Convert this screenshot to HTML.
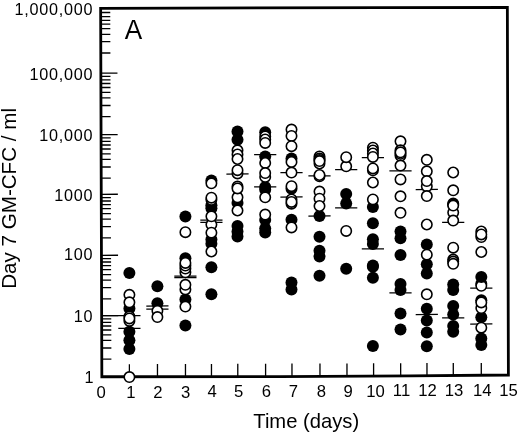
<!DOCTYPE html>
<html><head><meta charset="utf-8"><title>Figure A</title>
<style>html,body{margin:0;padding:0;background:#fff;}body{width:520px;height:435px;position:relative;overflow:hidden;font-family:"Liberation Sans",sans-serif;}</style></head>
<body>
<svg width="520" height="435" viewBox="0 0 520 435" style="position:absolute;left:0;top:0;will-change:transform;filter:blur(0.35px)">
<rect width="520" height="435" fill="#fff"/>
<polygon points="100.65,8.30 507.35,7.35 508.40,375.00 410.00,375.80 280.00,376.60 101.85,376.75" fill="none" stroke="#000" stroke-width="2.8" stroke-linejoin="miter"/>
<g stroke="#000" stroke-width="1.3">
<line x1="101.79" y1="359.10" x2="111.39" y2="359.08"/>
<line x1="101.76" y1="348.00" x2="111.36" y2="347.98"/>
<line x1="101.73" y1="340.45" x2="111.33" y2="340.43"/>
<line x1="101.71" y1="334.90" x2="111.31" y2="334.88"/>
<line x1="101.70" y1="330.00" x2="111.30" y2="329.98"/>
<line x1="101.68" y1="326.00" x2="111.28" y2="325.98"/>
<line x1="101.67" y1="322.30" x2="111.27" y2="322.28"/>
<line x1="101.66" y1="318.90" x2="111.26" y2="318.88"/>
<line x1="101.65" y1="315.60" x2="118.25" y2="315.56"/>
<line x1="101.60" y1="298.80" x2="111.20" y2="298.78"/>
<line x1="101.56" y1="287.70" x2="111.16" y2="287.68"/>
<line x1="101.54" y1="280.15" x2="111.14" y2="280.13"/>
<line x1="101.52" y1="274.60" x2="111.12" y2="274.58"/>
<line x1="101.50" y1="269.70" x2="111.10" y2="269.68"/>
<line x1="101.49" y1="265.70" x2="111.09" y2="265.68"/>
<line x1="101.48" y1="262.00" x2="111.08" y2="261.98"/>
<line x1="101.47" y1="258.60" x2="111.07" y2="258.58"/>
<line x1="101.45" y1="255.30" x2="118.05" y2="255.26"/>
<line x1="101.40" y1="237.80" x2="111.00" y2="237.78"/>
<line x1="101.36" y1="226.70" x2="110.96" y2="226.68"/>
<line x1="101.34" y1="219.15" x2="110.94" y2="219.13"/>
<line x1="101.32" y1="213.60" x2="110.92" y2="213.58"/>
<line x1="101.30" y1="208.70" x2="110.90" y2="208.68"/>
<line x1="101.29" y1="204.70" x2="110.89" y2="204.68"/>
<line x1="101.28" y1="201.00" x2="110.88" y2="200.98"/>
<line x1="101.27" y1="197.60" x2="110.87" y2="197.58"/>
<line x1="101.26" y1="194.30" x2="117.86" y2="194.26"/>
<line x1="101.20" y1="178.10" x2="110.80" y2="178.08"/>
<line x1="101.17" y1="167.00" x2="110.77" y2="166.98"/>
<line x1="101.14" y1="159.45" x2="110.74" y2="159.43"/>
<line x1="101.12" y1="153.90" x2="110.72" y2="153.88"/>
<line x1="101.11" y1="149.00" x2="110.71" y2="148.98"/>
<line x1="101.10" y1="145.00" x2="110.70" y2="144.98"/>
<line x1="101.08" y1="141.30" x2="110.68" y2="141.28"/>
<line x1="101.07" y1="137.90" x2="110.67" y2="137.88"/>
<line x1="101.06" y1="134.60" x2="117.66" y2="134.56"/>
<line x1="101.00" y1="116.60" x2="110.60" y2="116.58"/>
<line x1="100.97" y1="105.50" x2="110.57" y2="105.48"/>
<line x1="100.94" y1="97.95" x2="110.54" y2="97.93"/>
<line x1="100.92" y1="92.40" x2="110.52" y2="92.38"/>
<line x1="100.91" y1="87.50" x2="110.51" y2="87.48"/>
<line x1="100.89" y1="83.50" x2="110.49" y2="83.48"/>
<line x1="100.88" y1="79.80" x2="110.48" y2="79.78"/>
<line x1="100.87" y1="76.40" x2="110.47" y2="76.38"/>
<line x1="100.86" y1="73.10" x2="117.46" y2="73.06"/>
<line x1="100.80" y1="53.00" x2="110.40" y2="52.98"/>
<line x1="100.76" y1="41.70" x2="110.36" y2="41.68"/>
<line x1="100.73" y1="34.30" x2="110.33" y2="34.28"/>
<line x1="100.72" y1="28.70" x2="110.32" y2="28.68"/>
<line x1="100.70" y1="24.10" x2="110.30" y2="24.08"/>
<line x1="100.69" y1="20.30" x2="110.29" y2="20.28"/>
<line x1="100.68" y1="16.60" x2="110.28" y2="16.58"/>
<line x1="100.66" y1="12.50" x2="110.26" y2="12.48"/>
<line x1="129.40" y1="376.73" x2="129.37" y2="364.20"/>
<line x1="157.50" y1="376.70" x2="157.47" y2="364.09"/>
<line x1="185.50" y1="376.68" x2="185.47" y2="363.99"/>
<line x1="211.50" y1="376.66" x2="211.47" y2="363.89"/>
<line x1="237.80" y1="376.64" x2="237.77" y2="363.80"/>
<line x1="265.60" y1="376.61" x2="265.57" y2="363.69"/>
<line x1="292.00" y1="376.53" x2="291.97" y2="363.60"/>
<line x1="320.00" y1="376.35" x2="319.97" y2="363.49"/>
<line x1="347.00" y1="376.19" x2="346.97" y2="363.39"/>
<line x1="373.60" y1="376.02" x2="373.57" y2="363.29"/>
<line x1="400.70" y1="375.86" x2="400.67" y2="363.19"/>
<line x1="427.00" y1="375.66" x2="426.97" y2="363.10"/>
<line x1="453.30" y1="375.45" x2="453.27" y2="363.00"/>
<line x1="481.30" y1="375.22" x2="481.27" y2="362.90"/>
</g>
<g stroke="#000" stroke-width="1.25">
<line x1="101.65" y1="315.63" x2="140.50" y2="315.57"/>
<line x1="118.30" y1="328.33" x2="140.50" y2="328.27"/>
<line x1="146.30" y1="306.03" x2="168.50" y2="305.97"/>
<line x1="146.30" y1="309.23" x2="168.50" y2="309.17"/>
<line x1="174.30" y1="276.23" x2="196.50" y2="276.17"/>
<line x1="174.30" y1="277.63" x2="196.50" y2="277.57"/>
<line x1="200.30" y1="220.23" x2="222.50" y2="220.17"/>
<line x1="200.30" y1="222.33" x2="222.50" y2="222.27"/>
<line x1="226.40" y1="174.03" x2="248.60" y2="173.97"/>
<line x1="254.10" y1="154.63" x2="276.30" y2="154.57"/>
<line x1="254.10" y1="186.83" x2="276.30" y2="186.77"/>
<line x1="280.40" y1="172.73" x2="302.60" y2="172.67"/>
<line x1="280.40" y1="197.03" x2="302.60" y2="196.97"/>
<line x1="308.40" y1="175.93" x2="330.60" y2="175.87"/>
<line x1="308.40" y1="216.03" x2="330.60" y2="215.97"/>
<line x1="335.10" y1="169.63" x2="357.30" y2="169.57"/>
<line x1="335.10" y1="207.83" x2="357.30" y2="207.77"/>
<line x1="361.80" y1="157.63" x2="384.00" y2="157.57"/>
<line x1="361.80" y1="248.93" x2="384.00" y2="248.87"/>
<line x1="389.40" y1="170.83" x2="411.60" y2="170.77"/>
<line x1="389.40" y1="292.83" x2="411.60" y2="292.77"/>
<line x1="415.70" y1="189.53" x2="437.90" y2="189.47"/>
<line x1="415.70" y1="314.53" x2="437.90" y2="314.47"/>
<line x1="442.10" y1="222.43" x2="464.30" y2="222.37"/>
<line x1="442.10" y1="317.93" x2="464.30" y2="317.87"/>
<line x1="470.20" y1="288.13" x2="492.40" y2="288.07"/>
<line x1="470.20" y1="324.03" x2="492.40" y2="323.97"/>
</g>
<g fill="#000">
<circle cx="129.40" cy="273.10" r="6.0"/>
<circle cx="129.40" cy="308.60" r="6.0"/>
<circle cx="129.40" cy="331.80" r="6.0"/>
<circle cx="129.40" cy="340.30" r="6.0"/>
<circle cx="129.40" cy="349.00" r="6.0"/>
<circle cx="157.40" cy="286.20" r="6.0"/>
<circle cx="157.40" cy="303.30" r="6.0"/>
<circle cx="185.40" cy="216.40" r="6.0"/>
<circle cx="185.40" cy="258.20" r="6.0"/>
<circle cx="185.40" cy="299.40" r="6.0"/>
<circle cx="185.40" cy="325.60" r="6.0"/>
<circle cx="211.40" cy="180.40" r="6.0"/>
<circle cx="211.40" cy="205.30" r="6.0"/>
<circle cx="211.40" cy="208.30" r="6.0"/>
<circle cx="211.40" cy="239.60" r="6.0"/>
<circle cx="211.40" cy="243.80" r="6.0"/>
<circle cx="211.40" cy="267.30" r="6.0"/>
<circle cx="211.40" cy="294.20" r="6.0"/>
<circle cx="237.50" cy="131.60" r="6.0"/>
<circle cx="237.50" cy="139.80" r="6.0"/>
<circle cx="237.50" cy="203.00" r="6.0"/>
<circle cx="237.50" cy="226.00" r="6.0"/>
<circle cx="237.50" cy="231.50" r="6.0"/>
<circle cx="237.50" cy="236.40" r="6.0"/>
<circle cx="265.20" cy="132.30" r="6.0"/>
<circle cx="265.20" cy="156.60" r="6.0"/>
<circle cx="265.20" cy="186.90" r="6.0"/>
<circle cx="265.20" cy="189.80" r="6.0"/>
<circle cx="265.20" cy="220.00" r="6.0"/>
<circle cx="265.20" cy="228.60" r="6.0"/>
<circle cx="265.20" cy="232.50" r="6.0"/>
<circle cx="291.50" cy="158.60" r="6.0"/>
<circle cx="291.50" cy="188.70" r="6.0"/>
<circle cx="291.50" cy="219.80" r="6.0"/>
<circle cx="291.50" cy="282.50" r="6.0"/>
<circle cx="291.50" cy="289.50" r="6.0"/>
<circle cx="319.50" cy="215.90" r="6.0"/>
<circle cx="319.50" cy="236.70" r="6.0"/>
<circle cx="319.50" cy="250.80" r="6.0"/>
<circle cx="319.50" cy="256.60" r="6.0"/>
<circle cx="319.50" cy="275.80" r="6.0"/>
<circle cx="346.20" cy="194.00" r="6.0"/>
<circle cx="346.20" cy="203.50" r="6.0"/>
<circle cx="346.20" cy="268.70" r="6.0"/>
<circle cx="372.90" cy="207.00" r="6.0"/>
<circle cx="372.90" cy="223.20" r="6.0"/>
<circle cx="372.90" cy="239.20" r="6.0"/>
<circle cx="372.90" cy="244.00" r="6.0"/>
<circle cx="372.90" cy="265.40" r="6.0"/>
<circle cx="372.90" cy="266.80" r="6.0"/>
<circle cx="372.90" cy="277.70" r="6.0"/>
<circle cx="372.90" cy="346.00" r="6.0"/>
<circle cx="400.50" cy="231.50" r="6.0"/>
<circle cx="400.50" cy="238.30" r="6.0"/>
<circle cx="400.50" cy="255.00" r="6.0"/>
<circle cx="400.50" cy="284.10" r="6.0"/>
<circle cx="400.50" cy="290.00" r="6.0"/>
<circle cx="400.50" cy="313.50" r="6.0"/>
<circle cx="400.50" cy="329.50" r="6.0"/>
<circle cx="426.80" cy="244.60" r="6.0"/>
<circle cx="426.80" cy="264.20" r="6.0"/>
<circle cx="426.80" cy="273.50" r="6.0"/>
<circle cx="426.80" cy="308.80" r="6.0"/>
<circle cx="426.80" cy="320.60" r="6.0"/>
<circle cx="426.80" cy="332.40" r="6.0"/>
<circle cx="426.80" cy="346.30" r="6.0"/>
<circle cx="453.20" cy="284.60" r="6.0"/>
<circle cx="453.20" cy="289.90" r="6.0"/>
<circle cx="453.20" cy="305.90" r="6.0"/>
<circle cx="453.20" cy="314.40" r="6.0"/>
<circle cx="453.20" cy="326.10" r="6.0"/>
<circle cx="453.20" cy="331.80" r="6.0"/>
<circle cx="481.30" cy="300.20" r="6.0"/>
<circle cx="481.30" cy="317.20" r="6.0"/>
<circle cx="481.30" cy="338.60" r="6.0"/>
<circle cx="481.30" cy="345.00" r="6.0"/>
</g>
<g fill="#fff" stroke="#000" stroke-width="1.6">
<circle cx="129.40" cy="294.80" r="5.2"/>
<circle cx="129.40" cy="302.30" r="5.2"/>
<circle cx="129.40" cy="316.60" r="5.2"/>
<circle cx="129.40" cy="320.90" r="5.2"/>
<circle cx="129.40" cy="318.40" r="5.2"/>
<circle cx="129.40" cy="377.10" r="5.2"/>
<circle cx="157.40" cy="310.80" r="5.2"/>
<circle cx="157.40" cy="317.10" r="5.2"/>
<circle cx="185.40" cy="232.20" r="5.2"/>
<circle cx="185.40" cy="272.30" r="5.2"/>
<circle cx="185.40" cy="268.60" r="5.2"/>
<circle cx="185.40" cy="265.60" r="5.2"/>
<circle cx="185.40" cy="262.90" r="5.2"/>
<circle cx="185.40" cy="289.40" r="5.2"/>
<circle cx="185.40" cy="284.80" r="5.2"/>
<circle cx="185.40" cy="306.60" r="5.2"/>
<circle cx="211.40" cy="183.30" r="5.2"/>
<circle cx="211.40" cy="199.80" r="5.2"/>
<circle cx="211.40" cy="197.70" r="5.2"/>
<circle cx="211.40" cy="224.60" r="5.2"/>
<circle cx="211.40" cy="216.30" r="5.2"/>
<circle cx="211.40" cy="232.70" r="5.2"/>
<circle cx="211.40" cy="251.50" r="5.2"/>
<circle cx="237.50" cy="150.30" r="5.2"/>
<circle cx="237.50" cy="154.50" r="5.2"/>
<circle cx="237.50" cy="159.00" r="5.2"/>
<circle cx="237.50" cy="173.40" r="5.2"/>
<circle cx="237.50" cy="170.20" r="5.2"/>
<circle cx="237.50" cy="197.30" r="5.2"/>
<circle cx="237.50" cy="186.60" r="5.2"/>
<circle cx="237.50" cy="188.40" r="5.2"/>
<circle cx="237.50" cy="210.50" r="5.2"/>
<circle cx="265.20" cy="136.40" r="5.2"/>
<circle cx="265.20" cy="139.50" r="5.2"/>
<circle cx="265.20" cy="142.90" r="5.2"/>
<circle cx="265.20" cy="163.00" r="5.2"/>
<circle cx="265.20" cy="176.90" r="5.2"/>
<circle cx="265.20" cy="173.10" r="5.2"/>
<circle cx="265.20" cy="197.30" r="5.2"/>
<circle cx="265.20" cy="214.60" r="5.2"/>
<circle cx="291.50" cy="129.60" r="5.2"/>
<circle cx="291.50" cy="135.90" r="5.2"/>
<circle cx="291.50" cy="146.20" r="5.2"/>
<circle cx="291.50" cy="162.00" r="5.2"/>
<circle cx="291.50" cy="172.60" r="5.2"/>
<circle cx="291.50" cy="186.20" r="5.2"/>
<circle cx="291.50" cy="199.50" r="5.2"/>
<circle cx="291.50" cy="203.70" r="5.2"/>
<circle cx="291.50" cy="201.90" r="5.2"/>
<circle cx="291.50" cy="227.40" r="5.2"/>
<circle cx="319.50" cy="156.50" r="5.2"/>
<circle cx="319.50" cy="158.60" r="5.2"/>
<circle cx="319.50" cy="160.00" r="5.2"/>
<circle cx="319.50" cy="163.50" r="5.2"/>
<circle cx="319.50" cy="161.10" r="5.2"/>
<circle cx="319.50" cy="176.30" r="5.2"/>
<circle cx="319.50" cy="175.00" r="5.2"/>
<circle cx="319.50" cy="191.60" r="5.2"/>
<circle cx="319.50" cy="198.70" r="5.2"/>
<circle cx="319.50" cy="206.00" r="5.2"/>
<circle cx="346.20" cy="166.30" r="5.2"/>
<circle cx="346.20" cy="157.20" r="5.2"/>
<circle cx="346.20" cy="230.90" r="5.2"/>
<circle cx="372.90" cy="147.70" r="5.2"/>
<circle cx="372.90" cy="150.50" r="5.2"/>
<circle cx="372.90" cy="153.50" r="5.2"/>
<circle cx="372.90" cy="156.90" r="5.2"/>
<circle cx="372.90" cy="170.30" r="5.2"/>
<circle cx="372.90" cy="168.40" r="5.2"/>
<circle cx="372.90" cy="182.50" r="5.2"/>
<circle cx="372.90" cy="199.40" r="5.2"/>
<circle cx="400.50" cy="141.30" r="5.2"/>
<circle cx="400.50" cy="150.30" r="5.2"/>
<circle cx="400.50" cy="155.80" r="5.2"/>
<circle cx="400.50" cy="153.80" r="5.2"/>
<circle cx="400.50" cy="152.30" r="5.2"/>
<circle cx="400.50" cy="165.60" r="5.2"/>
<circle cx="400.50" cy="179.40" r="5.2"/>
<circle cx="400.50" cy="196.30" r="5.2"/>
<circle cx="400.50" cy="212.80" r="5.2"/>
<circle cx="426.80" cy="159.80" r="5.2"/>
<circle cx="426.80" cy="171.30" r="5.2"/>
<circle cx="426.80" cy="186.30" r="5.2"/>
<circle cx="426.80" cy="181.10" r="5.2"/>
<circle cx="426.80" cy="196.10" r="5.2"/>
<circle cx="426.80" cy="224.50" r="5.2"/>
<circle cx="426.80" cy="254.70" r="5.2"/>
<circle cx="426.80" cy="294.30" r="5.2"/>
<circle cx="453.20" cy="172.50" r="5.2"/>
<circle cx="453.20" cy="190.30" r="5.2"/>
<circle cx="453.20" cy="203.40" r="5.2"/>
<circle cx="453.20" cy="204.60" r="5.2"/>
<circle cx="453.20" cy="212.60" r="5.2"/>
<circle cx="453.20" cy="205.60" r="5.2"/>
<circle cx="453.20" cy="220.60" r="5.2"/>
<circle cx="453.20" cy="247.70" r="5.2"/>
<circle cx="453.20" cy="259.60" r="5.2"/>
<circle cx="453.20" cy="261.60" r="5.2"/>
<circle cx="453.20" cy="263.80" r="5.2"/>
<circle cx="481.30" cy="231.50" r="5.2"/>
<circle cx="481.30" cy="237.10" r="5.2"/>
<circle cx="481.30" cy="234.40" r="5.2"/>
<circle cx="481.30" cy="252.00" r="5.2"/>
<circle cx="481.30" cy="283.80" r="5.2"/>
<circle cx="481.30" cy="285.80" r="5.2"/>
<circle cx="481.30" cy="308.10" r="5.2"/>
<circle cx="481.30" cy="302.40" r="5.2"/>
<circle cx="481.30" cy="327.70" r="5.2"/>
</g>
<g fill="#000">
<circle cx="481.30" cy="276.90" r="6.0"/>
</g>
<text transform="translate(93.30,15.00) scale(1.0,1)" font-family="Liberation Sans, sans-serif" font-size="16.2" text-anchor="end" fill="#000" letter-spacing="0.75">1,000,000</text>
<text transform="translate(93.30,80.00) scale(1.0,1)" font-family="Liberation Sans, sans-serif" font-size="16.2" text-anchor="end" fill="#000" letter-spacing="0.75">100,000</text>
<text transform="translate(93.30,141.00) scale(1.0,1)" font-family="Liberation Sans, sans-serif" font-size="16.2" text-anchor="end" fill="#000" letter-spacing="0.75">10,000</text>
<text transform="translate(93.30,201.00) scale(1.0,1)" font-family="Liberation Sans, sans-serif" font-size="16.2" text-anchor="end" fill="#000" letter-spacing="0.75">1000</text>
<text transform="translate(93.30,260.00) scale(1.0,1)" font-family="Liberation Sans, sans-serif" font-size="16.2" text-anchor="end" fill="#000" letter-spacing="0.75">100</text>
<text transform="translate(93.30,322.00) scale(1.0,1)" font-family="Liberation Sans, sans-serif" font-size="16.2" text-anchor="end" fill="#000" letter-spacing="0.75">10</text>
<text transform="translate(94.30,383.00) scale(1.0,1)" font-family="Liberation Sans, sans-serif" font-size="16.2" text-anchor="end" fill="#000" letter-spacing="0.75">1</text>
<text transform="translate(101.20,398.06) scale(1.03,1)" font-family="Liberation Sans, sans-serif" font-size="16.2" text-anchor="middle" fill="#000" >0</text>
<text transform="translate(130.80,397.89) scale(1.03,1)" font-family="Liberation Sans, sans-serif" font-size="16.2" text-anchor="middle" fill="#000" >1</text>
<text transform="translate(158.00,397.75) scale(1.03,1)" font-family="Liberation Sans, sans-serif" font-size="16.2" text-anchor="middle" fill="#000" >2</text>
<text transform="translate(185.70,397.60) scale(1.03,1)" font-family="Liberation Sans, sans-serif" font-size="16.2" text-anchor="middle" fill="#000" >3</text>
<text transform="translate(212.20,397.46) scale(1.03,1)" font-family="Liberation Sans, sans-serif" font-size="16.2" text-anchor="middle" fill="#000" >4</text>
<text transform="translate(238.60,397.32) scale(1.03,1)" font-family="Liberation Sans, sans-serif" font-size="16.2" text-anchor="middle" fill="#000" >5</text>
<text transform="translate(266.50,397.17) scale(1.03,1)" font-family="Liberation Sans, sans-serif" font-size="16.2" text-anchor="middle" fill="#000" >6</text>
<text transform="translate(293.40,397.02) scale(1.03,1)" font-family="Liberation Sans, sans-serif" font-size="16.2" text-anchor="middle" fill="#000" >7</text>
<text transform="translate(321.40,396.87) scale(1.03,1)" font-family="Liberation Sans, sans-serif" font-size="16.2" text-anchor="middle" fill="#000" >8</text>
<text transform="translate(348.10,396.73) scale(1.03,1)" font-family="Liberation Sans, sans-serif" font-size="16.2" text-anchor="middle" fill="#000" >9</text>
<text transform="translate(375.60,396.58) scale(1.03,1)" font-family="Liberation Sans, sans-serif" font-size="16.2" text-anchor="middle" fill="#000" >10</text>
<text transform="translate(401.50,396.44) scale(1.03,1)" font-family="Liberation Sans, sans-serif" font-size="16.2" text-anchor="middle" fill="#000" >11</text>
<text transform="translate(427.50,396.30) scale(1.03,1)" font-family="Liberation Sans, sans-serif" font-size="16.2" text-anchor="middle" fill="#000" >12</text>
<text transform="translate(454.00,396.15) scale(1.03,1)" font-family="Liberation Sans, sans-serif" font-size="16.2" text-anchor="middle" fill="#000" >13</text>
<text transform="translate(482.30,396.00) scale(1.03,1)" font-family="Liberation Sans, sans-serif" font-size="16.2" text-anchor="middle" fill="#000" >14</text>
<text transform="translate(508.60,395.86) scale(1.03,1)" font-family="Liberation Sans, sans-serif" font-size="16.2" text-anchor="middle" fill="#000" >15</text>
<text transform="translate(124.70,39.30) scale(0.97,1)" font-family="Liberation Sans, sans-serif" font-size="27.0" text-anchor="start" fill="#000" >A</text>
<text transform="translate(253.30,428.40) scale(0.962,1)" font-family="Liberation Sans, sans-serif" font-size="21.0" text-anchor="start" fill="#000" >Time (days)</text>
<text transform="translate(16.0,288.8) rotate(-90)" font-family="Liberation Sans, sans-serif" font-size="20.6" fill="#000">Day 7 GM-CFC / ml</text>
</svg>
</body></html>
